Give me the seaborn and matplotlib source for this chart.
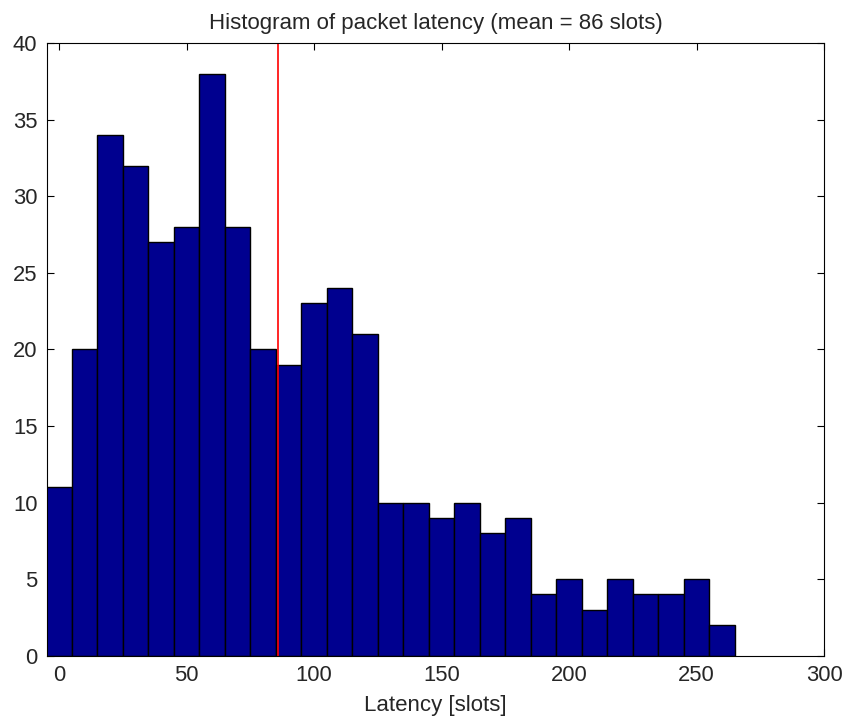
import matplotlib
matplotlib.use('Agg')
import matplotlib.pyplot as plt
import numpy as np
import pandas as pd
import seaborn as sns

# bin centres (slots) and packet counts
bin_centers = np.arange(0, 270, 10)
counts = [11, 20, 34, 32, 27, 28, 38, 28, 20, 19, 23, 24, 21, 10,
          10, 9, 10, 8, 9, 4, 5, 3, 5, 4, 4, 5, 2]
mean_latency = 86

df = pd.DataFrame({"latency": bin_centers, "count": counts})

sns.set_style("ticks")
plt.rcParams['font.family'] = ['Liberation Sans', 'DejaVu Sans']

fig = plt.figure(figsize=(8.43, 7.19), dpi=100)
ax = fig.add_axes([0.056, 0.088, 0.9215, 0.852])

sns.histplot(data=df, x="latency", weights="count", binwidth=10, binrange=(-5, 265),
             ax=ax, color='#00008F', edgecolor='black', linewidth=1.0, alpha=1.0)
ax.axvline(mean_latency, color='#FF0000', linewidth=1.2)

ax.set_xlim(-4.7, 300)
ax.set_ylim(0, 40)
ax.set_xticks(np.arange(0, 301, 50))
ax.set_yticks(np.arange(0, 41, 5))
ax.tick_params(direction='in', top=True, right=True, length=5, width=0.8,
               labelsize=15.8, colors='black', pad=7)
ax.tick_params(axis='x', labelcolor='#262626')
ax.tick_params(axis='y', labelcolor='#262626')
for s in ax.spines.values():
    s.set_linewidth(0.8)
    s.set_color('black')

ax.set_ylabel("")
ax.set_xlabel("Latency [slots]", fontsize=16, labelpad=6, color='#262626')
ax.set_title("Histogram of packet latency (mean = 86 slots)", fontsize=16, pad=10,
             color='#262626')

plt.savefig("out.png", dpi=100)
plt.close()
